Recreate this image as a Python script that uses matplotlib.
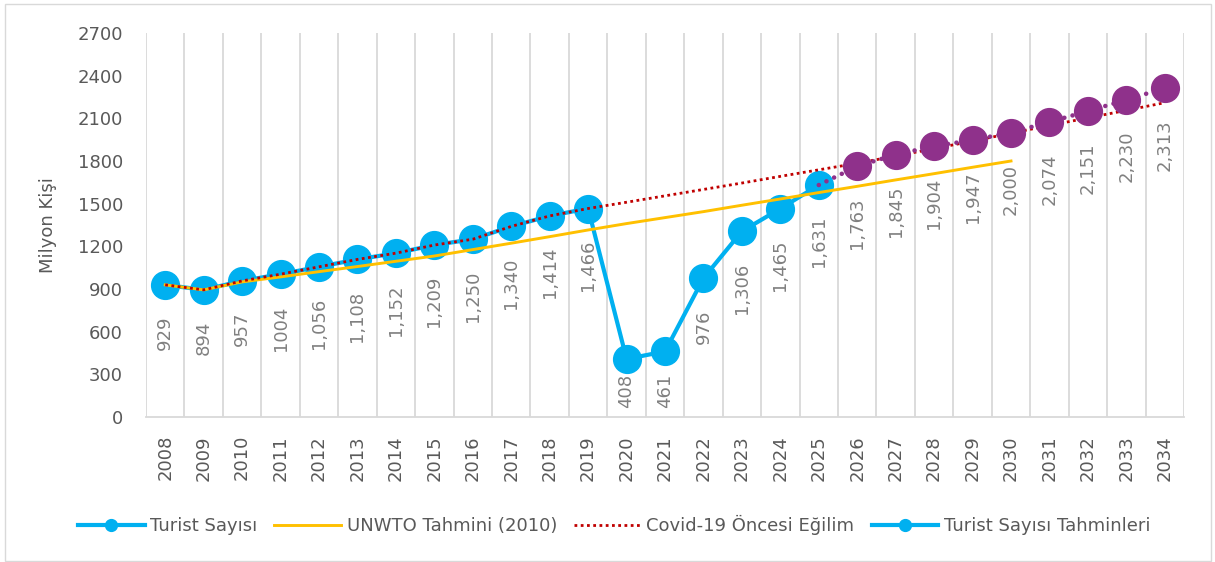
import matplotlib
matplotlib.use("Agg")
import matplotlib.pyplot as plt
from matplotlib.lines import Line2D
from matplotlib.patches import Rectangle

# ---------------- data ----------------
years = [str(y) for y in range(2008, 2035)]

# Turist Sayısı (2008-2025)
actual = [929, 894, 957, 1004, 1056, 1108, 1152, 1209, 1250, 1340, 1414, 1466,
          408, 461, 976, 1306, 1465, 1631]
actual_labels = ['929', '894', '957', '1004', '1,056', '1,108', '1,152', '1,209',
                 '1,250', '1,340', '1,414', '1,466', '408', '461', '976', '1,306',
                 '1,465', '1,631']

# Turist Sayısı Tahminleri (2025 link point + 2026-2034)
forecast = [1631, 1763, 1845, 1904, 1947, 2000, 2074, 2151, 2230, 2313]
forecast_labels = ['1,763', '1,845', '1,904', '1,947', '2,000', '2,074', '2,151',
                   '2,230', '2,313']

# UNWTO Tahmini (2010) (2008-2030)
unwto = [929, 894, 950, 985, 1022, 1058, 1095, 1132, 1177, 1222, 1268, 1315,
         1360, 1402, 1444, 1489, 1533, 1578, 1622, 1667, 1711, 1756, 1800]

# Covid-19 Öncesi Eğilim (2008-2034)
trend = [929, 894, 957, 1004, 1056, 1108, 1152, 1209, 1250, 1340, 1414, 1466,
         1510, 1555, 1600, 1645, 1692, 1738, 1784, 1835, 1887, 1940, 1995, 2050,
         2103, 2156, 2210]

legend_labels = ['Turist Sayısı', 'UNWTO Tahmini (2010)', 'Covid-19 Öncesi Eğilim',
                 'Turist Sayısı Tahminleri']

# ---------------- style ----------------
BLUE = '#00B0F0'
PURPLE = '#8F318B'
YELLOW = '#FFC000'
RED = '#C00000'
GRID = '#D9D9D9'
TXT = '#595959'
LBL = '#808080'
DPI = 100
W, H = 1215, 562

plt.rcParams['font.family'] = ['DejaVu Sans']

fig = plt.figure(figsize=(W / DPI, H / DPI), dpi=DPI)
L, R, T, B = 146, 1184, 33, 417
ax = fig.add_axes([L / W, (H - B) / H, (R - L) / W, (B - T) / H])

x_act = list(range(len(actual)))
x_fc = list(range(len(actual) - 1, len(actual) - 1 + len(forecast)))
x_un = list(range(len(unwto)))
x_tr = list(range(len(trend)))

ax.plot(x_act, actual, color=BLUE, lw=3, marker='o', ms=20, mec=BLUE, mfc=BLUE,
        zorder=3, solid_joinstyle='round')
ax.plot(x_un, unwto, color=YELLOW, lw=2.1, zorder=4)
ax.plot(x_tr, trend, color=RED, lw=2, linestyle=(0, (1, 1.25)), zorder=5)
ax.plot(x_fc, forecast, color=PURPLE, lw=3.3, linestyle=(0, (0.01, 1.85)),
        dash_capstyle='round', marker='o', ms=20, mec=PURPLE, mfc=PURPLE,
        markevery=list(range(1, len(forecast))), zorder=6)

ax.set_xlim(-0.5, len(years) - 0.5)
ax.set_ylim(0, 2700)
ax.set_yticks(range(0, 2701, 300))
ax.set_xticks(range(len(years)))
ax.set_xticklabels(years, rotation=90)
ax.tick_params(axis='x', length=0, pad=13, labelsize=13, labelcolor=TXT)
ax.tick_params(axis='y', length=0, pad=16.5, labelsize=13, labelcolor=TXT)

for s in ['top', 'right', 'left']:
    ax.spines[s].set_visible(False)
ax.spines['bottom'].set_color(GRID)
ax.spines['bottom'].set_linewidth(1.3)
for xv in range(len(years) + 1):
    ax.axvline(xv - 0.5, color=GRID, lw=1.3, zorder=1)

fig.text(48 / W, 1 - 225 / H, 'Milyon Kişi', rotation=90, ha='center', va='center',
         fontsize=13, color=TXT)

# data labels
off = -31 * 72 / DPI
texts = []
for xi, v, s in zip(x_act, actual, actual_labels):
    texts.append(ax.annotate(s, (xi, v), xytext=(0, off), textcoords='offset points',
                             rotation=90, ha='center', va='top', fontsize=13,
                             color=LBL, zorder=7))
for xi, v, s in zip(x_fc[1:], forecast[1:], forecast_labels):
    texts.append(ax.annotate(s, (xi, v), xytext=(0, off), textcoords='offset points',
                             rotation=90, ha='center', va='top', fontsize=13,
                             color=LBL, zorder=7))

fig.canvas.draw()
r = fig.canvas.get_renderer()
ybot = ax.transAxes.transform((0, 0))[1]
for t in texts:
    bb = t.get_window_extent(r)
    if bb.y0 < ybot + 9:
        shift = (ybot + 9 - bb.y0) * 72 / DPI
        t.xyann = (0, off + shift)

# legend
handles = [
    Line2D([], [], color=BLUE, lw=3, marker='o', ms=8.5, mfc=BLUE, mec=BLUE),
    Line2D([], [], color=YELLOW, lw=2.1),
    Line2D([], [], color=RED, lw=2, linestyle=(0, (1, 1.25))),
    Line2D([], [], color=BLUE, lw=3, marker='o', ms=8.5, mfc=BLUE, mec=BLUE),
]
fig.legend(handles, legend_labels, loc='center', bbox_to_anchor=(614 / W, 1 - 525 / H),
           ncol=4, frameon=False, fontsize=13, labelcolor=TXT, handlelength=3.7,
           handletextpad=0.3, columnspacing=0.95)

fig.patches.append(Rectangle((5 / W, 1.5 / H), (1211 - 5) / W, (558 - 1.5) / H,
                             transform=fig.transFigure, fill=False,
                             edgecolor=GRID, lw=1))

fig.savefig('out.png', dpi=DPI)
